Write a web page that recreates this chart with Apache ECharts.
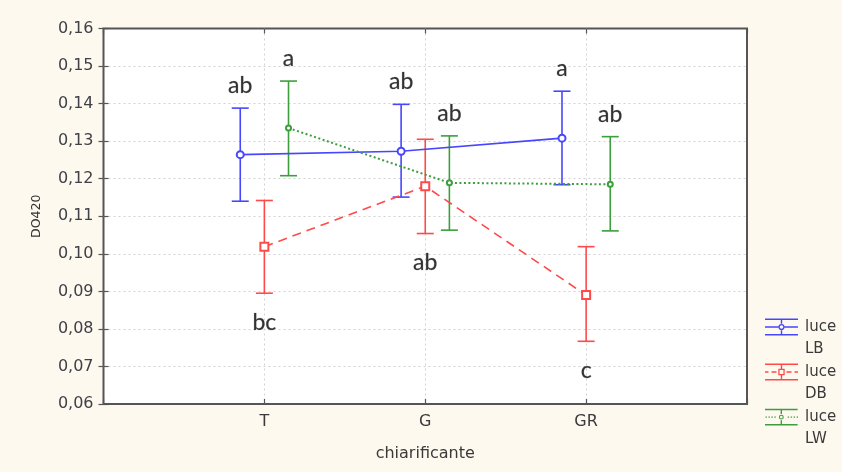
<!DOCTYPE html>
<html>
<head>
<meta charset="utf-8">
<script src="https://cdn.jsdelivr.net/npm/echarts@6/dist/echarts.min.js"></script>
<style>
  html, body { margin: 0; padding: 0; background: #fdf9ef; }
  #chart { width: 842px; height: 472px; }
</style>
</head>
<body>
<div id="chart"></div>
<script>
// Clarifying agent groups on the x axis
const categories = ['T', 'G', 'GR'];

// Light treatment groups (means with lower / upper error limits)
const seriesNames = ['luce LB', 'luce DB', 'luce LW'];
const meanLB = [0.1264, 0.1273, 0.1308];
const lowLB  = [0.1140, 0.1151, 0.1184];
const highLB = [0.1388, 0.1398, 0.1433];

const meanDB = [0.1019, 0.1180, 0.0890];
const lowDB  = [0.0895, 0.1054, 0.0767];
const highDB = [0.1142, 0.1305, 0.1019];

const meanLW = [0.1335, 0.1189, 0.1185];
const lowLW  = [0.1208, 0.1063, 0.1061];
const highLW = [0.1460, 0.1314, 0.1312];

// Significance letters for each group
const lettersLB = ['ab', 'ab', 'a'];
const lettersDB = ['bc', 'ab', 'c'];
const lettersLW = ['a', 'ab', 'ab'];

// Y axis range / tick step
const yMin = 0.06, yMax = 0.16, yStep = 0.01;

const groups = [
  { name: seriesNames[0], mean: meanLB, low: lowLB, high: highLB, letters: lettersLB,
    shift: -0.15, color: '#4646ff', dash: 'solid', width: 1.6, symbol: 'emptyCircle', size: 7, letterSide: 'top' },
  { name: seriesNames[1], mean: meanDB, low: lowDB, high: highDB, letters: lettersDB,
    shift: 0, color: '#ff4a4a', dash: [9, 6], width: 1.6, symbol: 'emptyRect', size: 8, letterSide: 'bottom' },
  { name: seriesNames[2], mean: meanLW, low: lowLW, high: highLW, letters: lettersLW,
    shift: 0.15, color: '#3c9e3c', dash: [2, 2.5], width: 2, symbol: 'emptyCircle', size: 5, letterSide: 'top' }
];

const fmtY = v => v.toFixed(2).replace('.', ',');

// Legend glyphs: whisker caps, stem and the marker, in the style of each series.
// The tiny corner squares only widen the icon box so the glyph sits beside the first text line.
const spacer = ' M0,-2.5 H0.01 V-2.49 H0 Z M0,41.5 H0.01 V41.51 H0 Z';
const caps = 'M0,0 H33 V1.5 H0 Z M0,15.5 H33 V17 H0 Z M15.8,0 H17.2 V5.3 H15.8 Z M15.8,11.7 H17.2 V17 H15.8 Z';
const ring = ' M19.6,8.5 A3.1,3.1 0 1,1 13.4,8.5 A3.1,3.1 0 1,1 19.6,8.5 Z M18.3,8.5 A1.8,1.8 0 1,0 14.7,8.5 A1.8,1.8 0 1,0 18.3,8.5 Z';
const square = ' M13.3,5.3 H19.7 V11.7 H13.3 Z M14.6,6.6 V10.4 H18.4 V6.6 Z';
const iconLB = 'path://' + caps + ' M0,7.8 H13.4 V9.2 H0 Z M19.6,7.8 H33 V9.2 H19.6 Z' + ring + spacer;
const iconDB = 'path://' + caps + ' M0,7.8 H3.5 V9.2 H0 Z M6.5,7.8 H11.5 V9.2 H6.5 Z M21.5,7.8 H26.5 V9.2 H21.5 Z M29.5,7.8 H33 V9.2 H29.5 Z' + square + spacer;
let dots = '';
[0.5, 3.5, 6.5, 9.5, 23, 26, 29, 32].forEach(x => { dots += ' M' + x + ',7.9 h1.4 v1.3 h-1.4 Z'; });
const iconLW = 'path://' + caps + dots + ' M19,8.5 A2.5,2.5 0 1,1 14,8.5 A2.5,2.5 0 1,1 19,8.5 Z M17.9,8.5 A1.4,1.4 0 1,0 15.1,8.5 A1.4,1.4 0 1,0 17.9,8.5 Z' + spacer;
const icons = [iconLB, iconDB, iconLW];

const series = [];
groups.forEach(g => {
  // mean line with markers
  series.push({
    type: 'line',
    name: g.name,
    z: 4,
    data: categories.map((c, i) => [i + 1 + g.shift, g.mean[i]]),
    symbol: g.symbol,
    symbolSize: g.size,
    showAllSymbol: true,
    itemStyle: { color: g.color, borderWidth: 1.5 },
    lineStyle: { color: g.color, type: g.dash, width: g.width },
    emphasis: { disabled: true }
  });
  // error bars
  series.push({
    type: 'custom',
    name: g.name,
    z: 3,
    itemStyle: { color: g.color },
    data: categories.map((c, i) => [i + 1 + g.shift, g.low[i], g.high[i]]),
    encode: { x: 0, y: [1, 2] },
    renderItem: (params, api) => {
      const x = api.value(0);
      const lo = api.coord([x, api.value(1)]);
      const hi = api.coord([x, api.value(2)]);
      const half = 8.5;
      const style = { stroke: g.color, lineWidth: 1.6 };
      return {
        type: 'group',
        children: [
          { type: 'line', shape: { x1: hi[0], y1: hi[1], x2: lo[0], y2: lo[1] }, style },
          { type: 'line', shape: { x1: hi[0] - half, y1: hi[1], x2: hi[0] + half, y2: hi[1] }, style },
          { type: 'line', shape: { x1: lo[0] - half, y1: lo[1], x2: lo[0] + half, y2: lo[1] }, style }
        ]
      };
    }
  });
  // significance letters
  series.push({
    type: 'scatter',
    name: g.name + ' letters',
    z: 5,
    symbolSize: 0,
    silent: true,
    data: categories.map((c, i) => ({
      value: [i + 1 + g.shift, g.letterSide === 'top' ? g.high[i] : g.low[i]],
      letter: g.letters[i]
    })),
    label: {
      show: true,
      position: g.letterSide,
      distance: g.letterSide === 'top' ? 11 : 18,
      formatter: p => p.data.letter,
      fontFamily: 'Lato',
      fontSize: 23,
      color: '#000000',
      textBorderColor: 'rgba(0,0,0,0.35)',
      textBorderWidth: 0.6
    }
  });
});

const gridLine = { show: true, showMinLine: false, showMaxLine: false,
                   lineStyle: { color: '#d2d2d2', type: [2, 3], width: 1 } };
const tickStyle = { show: true, inside: true, length: 5, lineStyle: { color: '#555', width: 1.2 } };

const chart = echarts.init(document.getElementById('chart'), null, { renderer: 'canvas' });
chart.setOption({
  backgroundColor: '#fdf9ef',
  animation: false,
  textStyle: { fontFamily: 'DejaVu Sans' },
  grid: {
    left: 103.5, right: 95, top: 28.5, bottom: 68,
    show: true, backgroundColor: '#ffffff', borderColor: '#555', borderWidth: 2
  },
  legend: {
    orient: 'vertical',
    left: 765,
    top: 316,
    padding: 0,
    itemWidth: 33,
    itemHeight: 44,
    itemGap: 1,
    selectedMode: false,
    data: seriesNames.map((n, i) => ({ name: n, icon: icons[i] })),
    itemStyle: { borderWidth: 0 },
    formatter: n => n.replace(' ', '\n'),
    textStyle: { fontFamily: 'DejaVu Sans', fontSize: 15, color: '#3a3a3a', lineHeight: 22, padding: [0, 0, 0, 2] }
  },
  xAxis: [
    {
      type: 'value', min: 0, max: 4, interval: 1,
      name: 'chiarificante', nameLocation: 'middle', nameGap: 42,
      nameTextStyle: { fontFamily: 'DejaVu Sans', fontSize: 16, color: '#3a3a3a' },
      axisLine: { show: false },
      axisTick: tickStyle,
      axisLabel: { margin: 10, fontSize: 16, color: '#3a3a3a', formatter: v => categories[v - 1] || '' },
      splitLine: gridLine
    },
    {
      type: 'value', position: 'top', min: 0, max: 4, interval: 1,
      axisLine: { show: false },
      axisTick: tickStyle,
      axisLabel: { show: false },
      splitLine: { show: false }
    }
  ],
  yAxis: [
    {
      type: 'value', min: yMin, max: yMax, interval: yStep,
      name: 'DO420', nameLocation: 'middle', nameGap: 60, nameRotate: 90,
      nameTextStyle: { fontFamily: 'DejaVu Sans', fontSize: 12.5, color: '#333' },
      axisLine: { show: false },
      axisTick: tickStyle,
      axisLabel: { margin: 10, fontSize: 16, color: '#404048', formatter: fmtY },
      splitLine: gridLine
    },
    {
      type: 'value', position: 'right', min: yMin, max: yMax, interval: yStep,
      axisLine: { show: false },
      axisTick: tickStyle,
      axisLabel: { show: false },
      splitLine: { show: false }
    }
  ],
  series: series
});
</script>
</body>
</html>
